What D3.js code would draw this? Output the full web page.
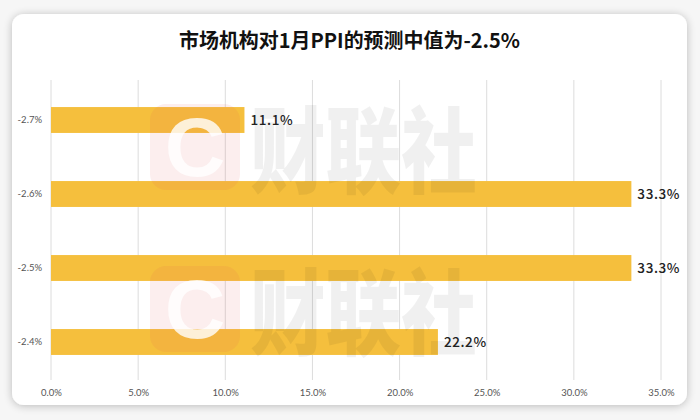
<!DOCTYPE html>
<html><head><meta charset="utf-8">
<script src="https://cdn.jsdelivr.net/npm/d3@7"></script>
<style>
body{margin:0;background:#f4f4f4;}
svg{display:block;}
</style></head>
<body>
<script>
const categories = ["-2.7%","-2.6%","-2.5%","-2.4%"];
const values = [11.1, 33.3, 33.3, 22.2];
const valueLabels = ["11.1%","33.3%","33.3%","22.2%"];
const xTicks = [0,5,10,15,20,25,30,35];
const title = "市场机构对1月PPI的预测中值为-2.5%";

const W=700,H=420;
const svg=d3.select("body").append("svg").attr("width",W).attr("height",H);
const defs=svg.append("defs");
const f=defs.append("filter").attr("id","sh").attr("x","-10%").attr("y","-10%").attr("width","120%").attr("height","120%");
f.append("feGaussianBlur").attr("in","SourceAlpha").attr("stdDeviation",4);
f.append("feOffset").attr("dx",0).attr("dy",1).attr("result","b");
f.append("feComponentTransfer").append("feFuncA").attr("type","linear").attr("slope",0.25);
const m=f.append("feMerge");m.append("feMergeNode");m.append("feMergeNode").attr("in","SourceGraphic");

svg.append("rect").attr("width",W).attr("height",H).attr("fill","#f6f6f6");
svg.append("rect").attr("x",12).attr("y",14).attr("width",675).attr("height",391).attr("rx",12)
  .attr("fill","#fff").attr("filter","url(#sh)");

svg.append("text").attr("x",179).attr("y",48)
  .attr("textLength",341).attr("lengthAdjust","spacingAndGlyphs")
  .attr("font-family","'Noto Sans CJK SC',sans-serif").attr("font-weight","bold")
  .attr("font-size",20).attr("fill","#111").text(title);

const x=d3.scaleLinear().domain([0,35]).range([51,661]);
const y=d3.scaleBand().domain(categories).range([83,379]).paddingInner(0.65).paddingOuter(0.325);

svg.append("g").selectAll("line").data(xTicks).join("line")
  .attr("x1",d=>x(d)).attr("x2",d=>x(d)).attr("y1",80).attr("y2",380)
  .attr("stroke","#dcdcdc").attr("stroke-width",1);

svg.append("g").selectAll("rect").data(values).join("rect")
  .attr("x",x(0)).attr("y",(d,i)=>y(categories[i])).attr("width",d=>x(d)-x(0))
  .attr("height",y.bandwidth()).attr("fill","#f5bf3d");

// watermarks
function wm(yTop){
  const g=svg.append("g");
  g.append("rect").attr("x",150).attr("y",yTop).attr("width",90).attr("height",86).attr("rx",16)
    .attr("fill","rgba(225,90,90,0.10)");
  g.append("text").attr("x",195).attr("y",yTop+72).attr("text-anchor","middle")
    .attr("font-family","Arial,'Liberation Sans',sans-serif").attr("font-weight","bold").attr("font-size",84)
    .attr("fill","rgba(255,255,255,0.8)").text("C");
  g.append("text").attr("transform",`translate(250,${yTop+82}) scale(0.9,1.12)`)
    .attr("font-family","'Noto Sans CJK SC',sans-serif").attr("font-weight","900").attr("font-size",84)
    .attr("fill","rgba(0,0,0,0.06)").text("财联社");
}
wm(104);
wm(266);

svg.append("g").selectAll("text").data(values).join("text")
  .attr("x",d=>x(d)+6).attr("y",(d,i)=>y(categories[i])+y.bandwidth()/2+5)
  .attr("font-family","'Noto Sans CJK SC',sans-serif").attr("font-size",13.5).attr("font-weight","500")
  .attr("letter-spacing",0.6)
  .attr("fill","#222").text((d,i)=>valueLabels[i]);

// axes
const xa=svg.append("g").attr("transform","translate(0,385)")
  .call(d3.axisBottom(x).tickValues(xTicks).tickFormat(d=>d.toFixed(1)+"%").tickSize(0).tickPadding(4));
xa.select(".domain").remove();
xa.selectAll("text").attr("font-family","Lato,'Open Sans',sans-serif").attr("font-size",9.5).attr("fill","#555");

const ya=svg.append("g").attr("transform","translate(42,0)")
  .call(d3.axisLeft(y).tickSize(0).tickPadding(0));
ya.select(".domain").remove();
ya.selectAll("text").attr("font-family","Lato,'Open Sans',sans-serif").attr("font-size",9.5).attr("fill","#555");
</script>
</body></html>
